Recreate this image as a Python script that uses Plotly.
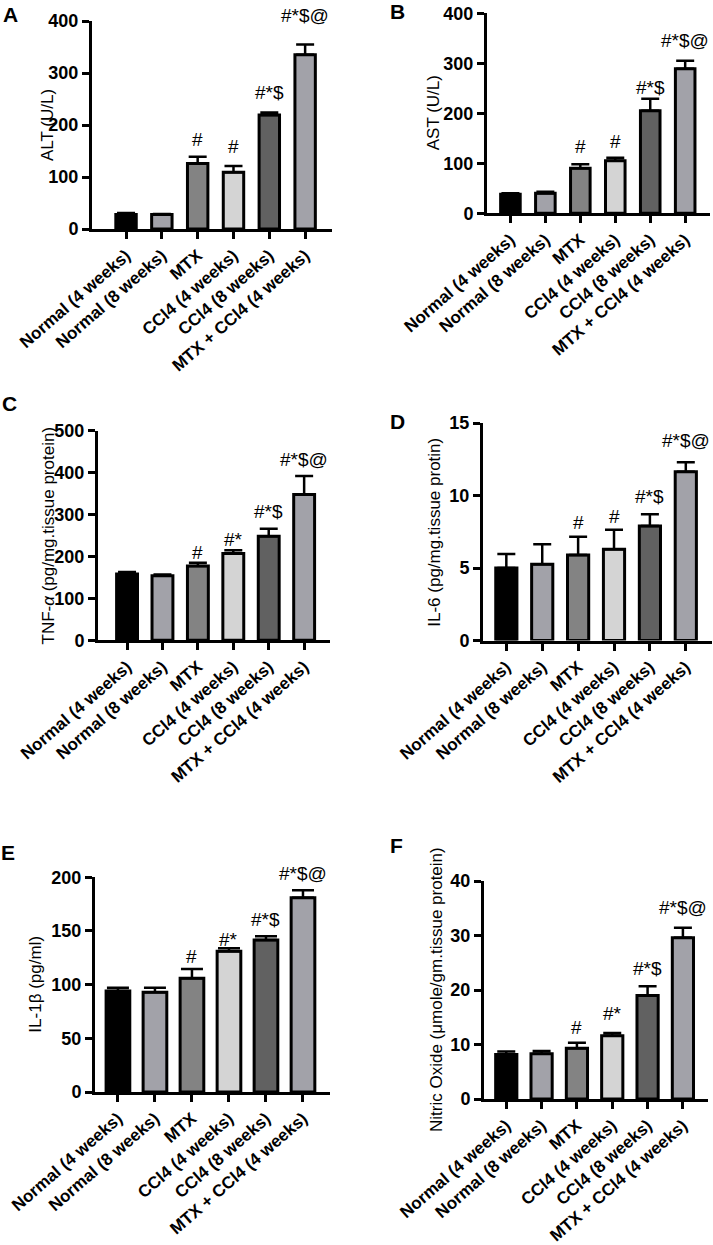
import plotly.graph_objects as go

W, H = 713, 1245

groups = ["Normal (4 weeks)", "Normal (8 weeks)", "MTX", "CCl4 (4 weeks)",
          "CCl4 (8 weeks)", "MTX + CCl4 (4 weeks)"]

alt_mean = [28, 28, 126, 109, 219, 335]
alt_sem = [3, 1, 13, 12, 5, 20]
ast_mean = [38, 40, 90, 105, 205, 289]
ast_sem = [2, 3, 8, 6, 24, 16]
tnf_mean = [158, 154, 177, 207, 248, 348]
tnf_sem = [5, 3, 8, 8, 18, 44]
il6_mean = [5.0, 5.26, 5.9, 6.3, 7.9, 11.64]
il6_sem = [0.97, 1.37, 1.26, 1.33, 0.8, 0.65]
il1b_mean = [94, 93, 106, 131, 141.5, 181]
il1b_sem = [3, 4, 8.5, 3, 3.5, 7]
no_mean = [8.15, 8.3, 9.3, 11.6, 19.0, 29.6]
no_sem = [0.55, 0.5, 1.0, 0.5, 1.7, 1.8]

sig_A = ["", "", "#", "#", "#*$", "#*$@"]
sig_B = ["", "", "#", "#", "#*$", "#*$@"]
sig_C = ["", "", "#", "#*", "#*$", "#*$@"]
sig_D = ["", "", "#", "#", "#*$", "#*$@"]
sig_E = ["", "", "#", "#*", "#*$", "#*$@"]
sig_F = ["", "", "#", "#*", "#*$", "#*$@"]

titles = ["ALT (U/L)", "AST (U/L)", "TNF-<i>α</i> (pg/mg.tissue protein)",
          "IL-6 (pg/mg.tissue protin)", "IL-1β (pg/ml)",
          "Nitric Oxide (μmole/gm.tissue protein)"]
letters = ["A", "B", "C", "D", "E", "F"]
y_ranges = [[0, 400], [0, 400], [0, 500], [0, 15], [0, 200], [0, 40]]
y_dticks = [100, 100, 100, 5, 50, 10]

colors = ["#000000", "#a2a2a9", "#838383", "#d4d4d4", "#616161", "#a2a2a9"]

means = [alt_mean, ast_mean, tnf_mean, il6_mean, il1b_mean, no_mean]
sems = [alt_sem, ast_sem, tnf_sem, il6_sem, il1b_sem, no_sem]
sigs = [sig_A, sig_B, sig_C, sig_D, sig_E, sig_F]

# layout styling (pixel geometry of each panel, page coordinates)
style = [
    dict(xpx=(92, 332), ypx=(21, 229), xr=(-0.95, 5.75), bw=0.57, cap=9, tx=47, let=(10, 14),
         gaps=[0, 0, 10, 12, 13, 21]),
    dict(xpx=(487, 710), ypx=(13.3, 213.3), xr=(-0.67, 5.71), bw=0.56, cap=9, tx=433, let=(397, 12),
         gaps=[0, 0, 10, 9, 4, 13]),
    dict(xpx=(98, 330), ypx=(430.7, 640.3), xr=(-0.82, 5.73), bw=0.59, cap=9, tx=48, let=(9, 404),
         gaps=[0, 0, 3, 3, 10, 9]),
    dict(xpx=(483, 712), ypx=(423, 640.5), xr=(-0.65, 5.73), bw=0.59, cap=9, tx=435, let=(397, 421),
         gaps=[0, 0, 7, 6, 10, 14]),
    dict(xpx=(95, 330), ypx=(877.3, 1092), xr=(-0.62, 5.73), bw=0.64, cap=11, tx=36, let=(8, 852),
         gaps=[0, 0, 5, 1, 9, 9]),
    dict(xpx=(484, 708), ypx=(881, 1099), xr=(-0.63, 5.71), bw=0.6, cap=9, tx=436, let=(396, 845),
         gaps=[0, 0, 8, 12, 10, 13]),
]


def px(x):
    return x / W


def py(y):
    return 1 - y / H


FONT = "Liberation Sans"
TICK_SIZE = 17
fig = go.Figure()
annotations = []
layout = dict(width=W, height=H, margin=dict(l=0, r=0, t=0, b=0, autoexpand=False),
              paper_bgcolor="white", plot_bgcolor="white", showlegend=False)

for i in range(6):
    s = style[i]
    n = "" if i == 0 else str(i + 1)
    xa, ya = "x" + n, "y" + n
    fig.add_trace(go.Bar(
        x=list(range(6)), y=means[i], xaxis=xa, yaxis=ya,
        width=s["bw"],
        marker=dict(color=colors, line=dict(color="black", width=3)),
        error_y=dict(type="data", symmetric=False, array=sems[i],
                     arrayminus=[0] * 6, color="black", thickness=2.5, width=s["cap"]),
    ))
    x0, x1 = s["xpx"]
    yt, yb = s["ypx"]
    layout["xaxis" + n] = dict(
        domain=[px(x0), px(x1)], anchor=ya, range=list(s["xr"]), automargin=False,
        tickmode="array", tickvals=list(range(6)), ticktext=groups, tickangle=-41,
        showline=True, linecolor="black", linewidth=3, ticks="outside",
        ticklen=7, tickwidth=3, tickcolor="black", showgrid=False, zeroline=False,
        tickfont=dict(family=FONT, size=TICK_SIZE, color="black", weight="bold"))
    layout["yaxis" + n] = dict(
        domain=[py(yb), py(yt)], anchor=xa, range=y_ranges[i], automargin=False,
        dtick=y_dticks[i], tick0=0,
        showline=True, linecolor="black", linewidth=3, ticks="outside",
        ticklen=7, tickwidth=3, tickcolor="black", showgrid=False, zeroline=False,
        tickfont=dict(family=FONT, size=18, color="black", weight="bold"))
    # significance labels
    for j in range(6):
        if sigs[i][j]:
            annotations.append(dict(
                x=j, y=means[i][j] + sems[i][j], xref=xa, yref=ya,
                text=sigs[i][j], showarrow=False, xanchor="center", yanchor="bottom",
                yshift=s["gaps"][j] - 5,
                font=dict(family=FONT, size=19, color="black")))
    # y title
    annotations.append(dict(
        x=px(s["tx"]), y=py((yt + yb) / 2), xref="paper", yref="paper",
        text=titles[i], textangle=-90, showarrow=False,
        xanchor="center", yanchor="middle",
        font=dict(family=FONT, size=17, color="black")))
    # panel letter
    annotations.append(dict(
        x=px(s["let"][0]), y=py(s["let"][1]), xref="paper", yref="paper",
        text="<b>" + letters[i] + "</b>", showarrow=False,
        xanchor="center", yanchor="middle",
        font=dict(family=FONT, size=21, color="black")))

layout["annotations"] = annotations
fig.update_layout(**layout)
fig.write_html("out.html", config={"displayModeBar": False, "staticPlot": True},
               post_script="document.body.style.margin='0px';document.body.style.overflow='hidden';")
